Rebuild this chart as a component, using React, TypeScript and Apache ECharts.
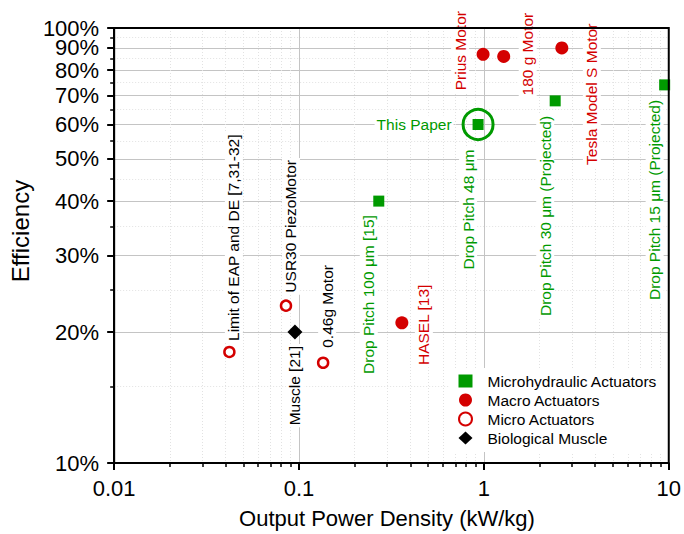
import React, { useEffect, useRef } from "react";
import * as echarts from "echarts";

// ---- data ----
const hydraulicNames = ["Drop Pitch 100 μm [15]", "Drop Pitch 48 μm", "Drop Pitch 30 μm (Projected)", "Drop Pitch 15 μm (Projected)"];
const hydraulicPower = [0.27, 0.93, 2.43, 9.5];
const hydraulicEff = [0.40, 0.60, 0.68, 0.74];

const macroNames = ["HASEL [13]", "Prius Motor", "180 g Motor", "Tesla Model S Motor"];
const macroPower = [0.36, 0.99, 1.28, 2.64];
const macroEff = [0.21, 0.87, 0.86, 0.90];

const microNames = ["Limit of EAP and DE [7,31-32]", "USR30 PiezoMotor", "0.46g Motor"];
const microPower = [0.042, 0.085, 0.135];
const microEff = [0.18, 0.23, 0.17];

const muscleNames = ["Muscle [21]"];
const musclePower = [0.095];
const muscleEff = [0.20];

const thisPaperNames = ["This Paper"];
const thisPaperPower = [0.93];
const thisPaperEff = [0.60];

const legendNames = ["Microhydraulic Actuators", "Macro Actuators", "Micro Actuators", "Biological Muscle"];

const xMajorTicks = [0.01, 0.1, 1, 10];
const xMinorTicks = [
  0.02, 0.03, 0.04, 0.05, 0.06, 0.07, 0.08, 0.09,
  0.2, 0.3, 0.4, 0.5, 0.6, 0.7, 0.8, 0.9,
  2, 3, 4, 5, 6, 7, 8, 9,
];
const yMajorTicks = [0.1, 0.2, 0.3, 0.4, 0.5, 0.6, 0.7, 0.8, 0.9, 1.0];
// tick labels: the 90% label sits on the helper axis so the axis' min/max overlap rule keeps both 90% and 100%
const yMainLabels = [0.1, 0.2, 0.3, 0.4, 0.5, 0.6, 0.7, 0.8, 1.0];
const yExtraLabels = [0.9];
const yMinorTicks = [0.15, 0.25, 0.35, 0.45, 0.55, 0.65, 0.75, 0.85, 0.95];

// ---- label placement (styling, offsets from the marker centre in px) ----
type Place = { dx: number; dy: number; align: "left" | "right" | "center" };
const labelPlacement: Record<string, Place> = {
  "Limit of EAP and DE [7,31-32]": { dx: 4.5, dy: -9, align: "left" },
  "USR30 PiezoMotor": { dx: 5, dy: -11, align: "left" },
  "0.46g Motor": { dx: 4, dy: -13, align: "left" },
  "Muscle [21]": { dx: 0, dy: 12, align: "right" },
  "Drop Pitch 100 μm [15]": { dx: -10, dy: 12, align: "right" },
  "HASEL [13]": { dx: 22, dy: 2, align: "center" },
  "Drop Pitch 48 μm": { dx: -10, dy: 23, align: "right" },
  "Prius Motor": { dx: -23, dy: 38, align: "left" },
  "180 g Motor": { dx: 24, dy: 41, align: "left" },
  "Tesla Model S Motor": { dx: 30, dy: 119, align: "left" },
  "Drop Pitch 30 μm (Projected)": { dx: -10, dy: 13, align: "right" },
  "Drop Pitch 15 μm (Projected)": { dx: -10, dy: 13, align: "right" },
};

const FONT = "'Liberation Sans', Arial, Helvetica, sans-serif";
const GREEN = "#009a00";
const RED = "#d40000";
const lg = (v: number) => Math.log10(v);

function fmtPower(v: number) {
  return String(parseFloat(Math.pow(10, v).toPrecision(3)));
}
function fmtPct(v: number) {
  return Math.round(Math.pow(10, v) * 100) + "%";
}

function makeSeries(
  name: string,
  names: string[],
  xs: number[],
  ys: number[],
  symbol: string,
  size: number,
  itemStyle: any,
  labelColor: string
) {
  return {
    name,
    type: "scatter",
    symbol,
    symbolSize: size,
    itemStyle: { opacity: 1, ...itemStyle },
    z: 3,
    data: xs.map((x, i) => ({ name: names[i], value: [lg(x), lg(ys[i])] })),
    label: {
      show: true,
      formatter: "{b}",
      color: labelColor,
      fontSize: 15.5,
      fontFamily: FONT,
      backgroundColor: "#fff",
      padding: [1, 2],
      rotate: 90,
    },
    labelLayout: (p: any) => {
      const c = labelPlacement[names[p.dataIndex]];
      const cx = p.rect.x + p.rect.width / 2;
      const cy = p.rect.y + p.rect.height / 2;
      return { x: cx + c.dx, y: cy + c.dy, align: c.align, verticalAlign: "middle", rotate: 90 };
    },
  };
}

export default function App() {
  const ref = useRef<HTMLDivElement>(null);
  useEffect(() => {
    if (!ref.current) return;
    const chart = echarts.init(ref.current, null, { renderer: "svg" });
    const axisText = { fontSize: 22, color: "#000", fontFamily: FONT };
    const yLabelText = { ...axisText, lineHeight: 18 };
    const option: any = {
      animation: false,
      backgroundColor: "#fff",
      grid: {
        left: 106,
        top: 28,
        right: 13,
        bottom: 67,
        show: true,
        borderColor: "#000",
        borderWidth: 2,
        backgroundColor: "transparent",
        z: 5,
      },
      xAxis: [
        {
          type: "value",
          position: "bottom",
          min: -2,
          max: 1,
          interval: 1,
          name: "Output Power Density (kW/kg)",
          nameLocation: "middle",
          nameGap: 44,
          nameTextStyle: { ...axisText, padding: [0, 9, 0, 0] },
          axisLine: { show: true, onZero: false, lineStyle: { color: "#000", width: 2 } },
          axisTick: { show: true, length: 7, customValues: xMajorTicks.map(lg), lineStyle: { color: "#000", width: 2 } },
          axisLabel: {
            ...axisText,
            margin: 14,
            showMinLabel: true,
            showMaxLabel: true,
            customValues: xMajorTicks.map(lg),
            formatter: fmtPower,
          },
          splitLine: { show: true, showMinLine: false, showMaxLine: false, lineStyle: { color: "#c4c4c4", width: 1 } },
        },
        {
          type: "value",
          position: "bottom",
          min: -2,
          max: 1,
          interval: 1,
          axisLine: { show: false, onZero: false },
          axisTick: { show: true, length: 4, customValues: xMinorTicks.map(lg), lineStyle: { color: "#000", width: 1.5 } },
          axisLabel: { show: false },
          splitLine: { show: true, lineStyle: { color: "#e2e2e2", width: 1, type: [1, 2] } },
        },
      ],
      yAxis: [
        {
          type: "value",
          position: "left",
          min: -1,
          max: 0,
          name: "Efficiency",
          nameLocation: "middle",
          nameGap: 72,
          nameTextStyle: { fontSize: 24, color: "#000", fontFamily: FONT, padding: [0, 0, 0, 29] },
          axisLine: { show: true, onZero: false, lineStyle: { color: "#000", width: 2 } },
          axisTick: { show: true, length: 7, customValues: yMajorTicks.map(lg), lineStyle: { color: "#000", width: 2 } },
          axisLabel: {
            ...yLabelText,
            margin: 15,
            showMinLabel: true,
            showMaxLabel: true,
            customValues: yMainLabels.map(lg),
            formatter: fmtPct,
          },
          splitLine: { show: true, showMinLine: false, showMaxLine: false, lineStyle: { color: "#c4c4c4", width: 1 } },
        },
        {
          type: "value",
          position: "left",
          min: -1,
          max: 0,
          axisLine: { show: false, onZero: false },
          axisTick: { show: true, length: 4, customValues: yMinorTicks.map(lg), lineStyle: { color: "#000", width: 1.5 } },
          axisLabel: {
            ...yLabelText,
            margin: 15,
            showMinLabel: true,
            showMaxLabel: true,
            customValues: yExtraLabels.map(lg),
            formatter: fmtPct,
          },
          splitLine: { show: true, lineStyle: { color: "#e2e2e2", width: 1, type: [1, 2] } },
        },
      ],
      legend: {
        data: legendNames,
        orient: "vertical",
        left: 450,
        top: 368,
        itemWidth: 14,
        itemHeight: 13,
        itemGap: 3,
        padding: [5, 20, 6, 8],
        backgroundColor: "#fff",
        selectedMode: false,
        textStyle: { fontSize: 15.5, color: "#000", fontFamily: FONT, padding: [0, 0, 0, 10] },
      },
      series: [
        {
          name: "thisPaperRing",
          type: "scatter",
          symbol: "circle",
          symbolSize: 30,
          z: 2,
          itemStyle: { opacity: 1, color: "rgba(0,0,0,0)", borderColor: GREEN, borderWidth: 3 },
          data: thisPaperPower.map((x, i) => ({ name: thisPaperNames[i], value: [lg(x), lg(thisPaperEff[i])] })),
          label: {
            show: true,
            position: "left",
            distance: 8,
            formatter: "{b}",
            color: GREEN,
            fontSize: 15.5,
            fontFamily: FONT,
            backgroundColor: "#fff",
            padding: [1, 2],
          },
        },
        makeSeries(legendNames[0], hydraulicNames, hydraulicPower, hydraulicEff, "rect", 11, { color: GREEN }, GREEN),
        makeSeries(legendNames[1], macroNames, macroPower, macroEff, "circle", 13, { color: RED }, RED),
        makeSeries(legendNames[2], microNames, microPower, microEff, "circle", 10, { color: "#fff", borderColor: RED, borderWidth: 2.5 }, "#000"),
        makeSeries(legendNames[3], muscleNames, musclePower, muscleEff, "diamond", 15, { color: "#000" }, "#000"),
      ],
    };
    chart.setOption(option);
    return () => chart.dispose();
  }, []);
  return (
    <div
      ref={ref}
      style={{ position: "fixed", left: 0, top: 0, width: 684, height: 534, background: "#fff" }}
    />
  );
}
